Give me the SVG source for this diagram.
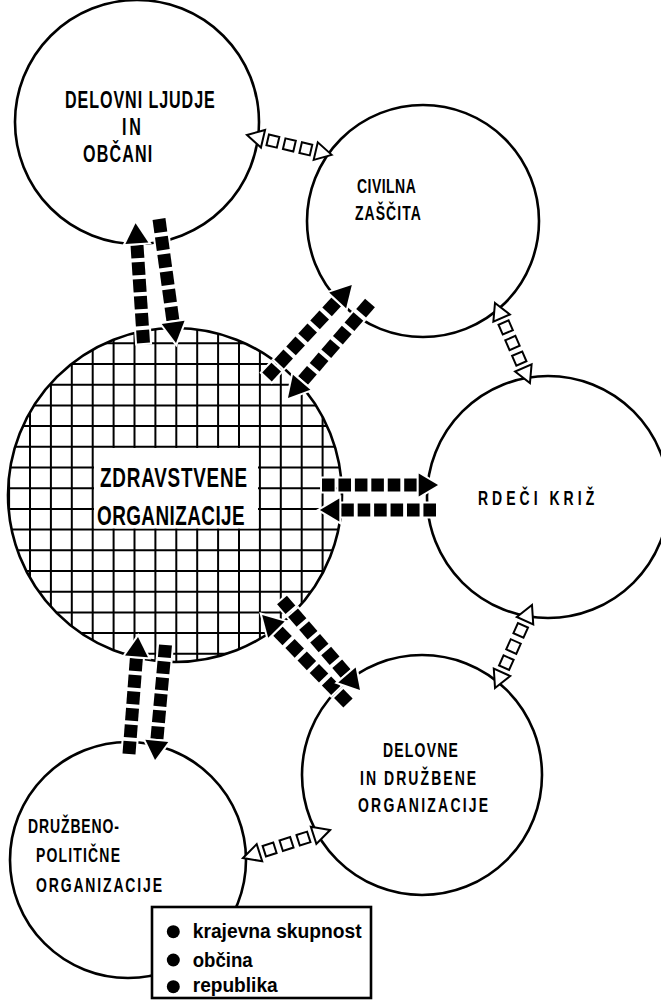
<svg xmlns="http://www.w3.org/2000/svg" xmlns:xlink="http://www.w3.org/1999/xlink" width="661" height="1002" viewBox="0 0 661 1002">
<style>
.circ{fill:none;stroke:#000;stroke-width:2.6}
.grid{fill:none;stroke:#000;stroke-width:2}
.lbl{font-family:"Liberation Sans",Arial,sans-serif;font-weight:bold;fill:#000}
.leg{font-family:"Liberation Sans",Arial,sans-serif;font-weight:bold;font-size:20px;fill:#000}
.sq{fill:#000;stroke:#fff;stroke-width:4;paint-order:stroke}
.hol{fill:#fff;stroke:#000;stroke-width:2;stroke-linejoin:miter}
</style>
<defs>
<clipPath id="cc"><circle cx="175" cy="495" r="167"/></clipPath>
<g id="sa" class="sq">
<rect x="0" y="-6.5" width="13" height="13"/>
<rect x="17" y="-6.5" width="13" height="13"/>
<rect x="34" y="-6.5" width="13" height="13"/>
<rect x="51" y="-6.5" width="13" height="13"/>
<rect x="68" y="-6.5" width="13" height="13"/>
<rect x="85" y="-6.5" width="13" height="13"/>
<polygon points="100,-11.5 120,0 100,11.5"/>
</g>
<g id="ha" class="hol">
<polygon points="0,0 17,-9 17,9" vector-effect="non-scaling-stroke"/>
<rect x="22" y="-5.5" width="11" height="11" vector-effect="non-scaling-stroke"/>
<rect x="39.5" y="-5.5" width="11" height="11" vector-effect="non-scaling-stroke"/>
<rect x="57" y="-5.5" width="11" height="11" vector-effect="non-scaling-stroke"/>
<polygon points="90,0 73,-9 73,9" vector-effect="non-scaling-stroke"/>
</g>
</defs>
<rect width="661" height="1002" fill="#fff"/>

<g id="node-zdravstvene">
<g clip-path="url(#cc)">
<path class="grid" d="M9.1,320V670M30,320V670M50.9,320V670M71.8,320V670M92.7,320V670M113.6,320V670M134.5,320V670M155.4,320V670M176.3,320V670M197.2,320V670M218.1,320V670M239,320V670M259.9,320V670M280.8,320V670M301.7,320V670M322.6,320V670M343.5,320V670"/>
<path class="grid" d="M0,343.3H345M0,364H345M0,384.7H345M0,405.4H345M0,426.1H345M0,446.8H345M0,467.5H345M0,488.2H345M0,508.9H345M0,529.6H345M0,550.3H345M0,571H345M0,591.7H345M0,612.4H345M0,633.1H345M0,653.8H345"/>
</g>
<rect x="94" y="448" width="164" height="80.5" fill="#fff"/>
<circle class="circ" cx="175" cy="495" r="167"/>
<text class="lbl" transform="translate(100,487) scale(0.7,1)" font-size="27" textLength="210" lengthAdjust="spacing">ZDRAVSTVENE</text>
<text class="lbl" transform="translate(97,525) scale(0.7,1)" font-size="27" textLength="211" lengthAdjust="spacing">ORGANIZACIJE</text>
</g>

<g id="node-delovni-ljudje">
<circle class="circ" cx="137" cy="122" r="122"/>
<text class="lbl" transform="translate(65,108) scale(0.7,1)" font-size="23" textLength="214" lengthAdjust="spacing">DELOVNI LJUDJE</text>
<text class="lbl" transform="translate(122,135) scale(0.7,1)" font-size="23" textLength="27" lengthAdjust="spacing">IN</text>
<text class="lbl" transform="translate(83,162) scale(0.7,1)" font-size="23" textLength="99" lengthAdjust="spacing">OBČANI</text>
</g>

<g id="node-civilna-zascita">
<circle class="circ" cx="423" cy="221" r="116"/>
<text class="lbl" transform="translate(357,193) scale(0.7,1)" font-size="20" textLength="84" lengthAdjust="spacing">CIVILNA</text>
<text class="lbl" transform="translate(355,220) scale(0.7,1)" font-size="20" textLength="94" lengthAdjust="spacing">ZAŠČITA</text>
</g>

<g id="node-rdeci-kriz">
<circle class="circ" cx="548" cy="497" r="121"/>
<text class="lbl" transform="translate(478,505) scale(0.7,1)" font-size="20" textLength="166" lengthAdjust="spacing">RDEČI KRIŽ</text>
</g>

<g id="node-delovne-organizacije">
<circle class="circ" cx="422" cy="775" r="120"/>
<text class="lbl" transform="translate(383,757) scale(0.7,1)" font-size="20" textLength="107" lengthAdjust="spacing">DELOVNE</text>
<text class="lbl" transform="translate(360,785) scale(0.7,1)" font-size="20" textLength="166" lengthAdjust="spacing">IN DRUŽBENE</text>
<text class="lbl" transform="translate(358,812) scale(0.7,1)" font-size="20" textLength="186" lengthAdjust="spacing">ORGANIZACIJE</text>
</g>

<g id="node-druzbenopoliticne">
<circle class="circ" cx="128" cy="860" r="118"/>
<text class="lbl" transform="translate(28,833) scale(0.7,1)" font-size="20" textLength="130" lengthAdjust="spacing">DRUŽBENO-</text>
<text class="lbl" transform="translate(36,862) scale(0.7,1)" font-size="20" textLength="120" lengthAdjust="spacing">POLITIČNE</text>
<text class="lbl" transform="translate(36,892) scale(0.7,1)" font-size="20" textLength="180" lengthAdjust="spacing">ORGANIZACIJE</text>
</g>

<g id="connectors">
<use xlink:href="#sa" href="#sa" transform="translate(143.5,343) rotate(-93.8)"/>
<use xlink:href="#sa" href="#sa" transform="translate(159,219) rotate(82.2) scale(1.043,1)"/>
<use xlink:href="#sa" href="#sa" transform="translate(267,377) rotate(-47.3) scale(1.042,1)"/>
<use xlink:href="#sa" href="#sa" transform="translate(370,303) rotate(130.8) scale(1.046,1)"/>
<use xlink:href="#sa" href="#sa" transform="translate(322,485) scale(0.967,1)"/>
<use xlink:href="#sa" href="#sa" transform="translate(436,510) rotate(180) scale(0.967,1)"/>
<use xlink:href="#sa" href="#sa" transform="translate(348,703) rotate(-134.3) scale(1.025,1)"/>
<use xlink:href="#sa" href="#sa" transform="translate(282,600) rotate(49.1) scale(0.992,1)"/>
<use xlink:href="#sa" href="#sa" transform="translate(129,754) rotate(-85.6) scale(0.978,1)"/>
<use xlink:href="#sa" href="#sa" transform="translate(165.5,645) rotate(95.2) scale(0.963,1)"/>
<use xlink:href="#ha" href="#ha" transform="translate(247,135) rotate(13.2) scale(0.967,1)"/>
<use xlink:href="#ha" href="#ha" transform="translate(495,303) rotate(66.4) scale(0.97,1)"/>
<use xlink:href="#ha" href="#ha" transform="translate(532,605) rotate(114) scale(1.01,1)"/>
<use xlink:href="#ha" href="#ha" transform="translate(243,858) rotate(-17.8) scale(1.016,1)"/>
</g>

<g id="legend">
<rect x="152" y="907" width="219" height="91" fill="#fff" stroke="#000" stroke-width="2.6"/>
<circle cx="173.3" cy="931.7" r="6.5"/>
<circle cx="173.3" cy="960" r="6.5"/>
<circle cx="173.3" cy="986.7" r="6.5"/>
<text class="leg" x="192.7" y="938.3" textLength="169" lengthAdjust="spacingAndGlyphs">krajevna skupnost</text>
<text class="leg" x="192.7" y="966.7" textLength="60" lengthAdjust="spacingAndGlyphs">občina</text>
<text class="leg" x="192.7" y="991.7" textLength="85" lengthAdjust="spacingAndGlyphs">republika</text>
</g>
</svg>
